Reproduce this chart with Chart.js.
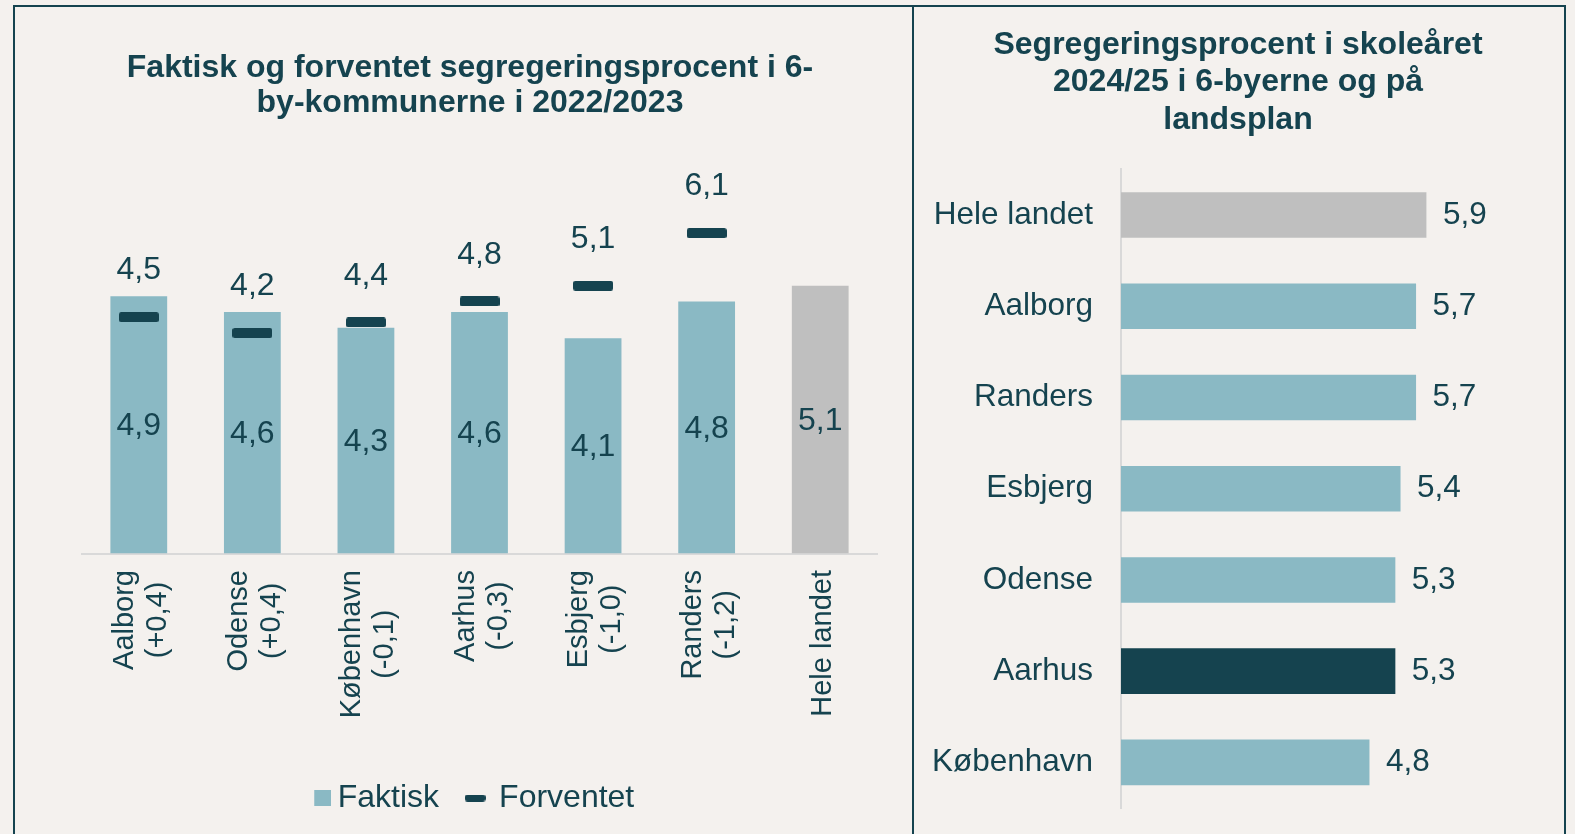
<!DOCTYPE html>
<html lang="da">
<head>
<meta charset="utf-8">
<title>Segregeringsprocent i 6-byerne</title>
<script src="https://cdn.jsdelivr.net/npm/chart.js@4.4.1/dist/chart.umd.min.js"></script>
<style>
  html, body { margin: 0; padding: 0; background: #f4f1ee; overflow: hidden; }
  body { width: 1575px; height: 834px; position: relative; }
  .frame { position: absolute; left: 13px; top: 5px; width: 1549px; height: 900px; border: 2px solid #15434f; border-bottom: none; }
  .divider { position: absolute; left: 912px; top: 5px; width: 2px; height: 900px; background: #15434f; }
  .box { position: absolute; top: 8px; height: 826px; }
  #leftBox { left: 15px; width: 896px; }
  #rightBox { left: 915px; width: 648px; }
</style>
</head>
<body>
<div class="frame"></div>
<div class="divider"></div>
<div class="box" id="leftBox"><canvas id="left"></canvas></div>
<div class="box" id="rightBox"><canvas id="right"></canvas></div>

<script>
// left chart data (2022/2023)
const cities = ['Aalborg', 'Odense', 'København', 'Aarhus', 'Esbjerg', 'Randers', 'Hele landet'];
const diffs = ['(+0,4)', '(+0,4)', '(-0,1)', '(-0,3)', '(-1,0)', '(-1,2)', null];
const faktisk = [4.9, 4.6, 4.3, 4.6, 4.1, 4.8, 5.1];
const forventet = [4.5, 4.2, 4.4, 4.8, 5.1, 6.1, null];

// right chart data (2024/25)
const places = ['Hele landet', 'Aalborg', 'Randers', 'Esbjerg', 'Odense', 'Aarhus', 'København'];
const pct2425 = [5.9, 5.7, 5.7, 5.4, 5.3, 5.3, 4.8];

const DARK = '#15434f';
const LIGHT = '#8ab9c4';
const GREY = '#bfbfbf';
const AXIS = '#d9d9d9';
const FONT = '"Liberation Sans", Arial, sans-serif';

Chart.defaults.font.family = FONT;
Chart.defaults.color = DARK;

const fmt = v => v.toFixed(1).replace('.', ',');

function makeMarker(w, h, r, color, padLeft) {
  const c = document.createElement('canvas');
  c.width = w + (padLeft || 0);
  c.height = h;
  const g = c.getContext('2d');
  g.fillStyle = color;
  g.beginPath();
  g.roundRect(padLeft || 0, 0, w, h, r);
  g.fill();
  return c;
}
const marker = makeMarker(40, 10, 2.5, DARK);
const legendMarker = makeMarker(21, 7, 3, DARK);
// square for the legend, padded on the left so it sits closer to its text
const legendSquare = makeMarker(17, 16, 0, LIGHT, 18);

const leftLabels = {
  id: 'leftLabels',
  afterDatasetsDraw(chart) {
    const ctx = chart.ctx;
    ctx.save();
    ctx.fillStyle = DARK;
    ctx.textAlign = 'center';
    ctx.textBaseline = 'middle';
    ctx.font = '32px ' + FONT;
    chart.getDatasetMeta(0).data.forEach((bar, i) => {
      ctx.fillText(fmt(faktisk[i]), bar.x, (bar.y + bar.base) / 2 + 1.5);
    });
    chart.getDatasetMeta(1).data.forEach((pt, i) => {
      if (forventet[i] == null) return;
      ctx.fillText(fmt(forventet[i]), pt.x, pt.y - 46.5);
    });

    // rotated category labels, lines centred on each other
    const xs = chart.scales.x;
    ctx.font = '29px ' + FONT;
    cities.forEach((c, i) => {
      const lines = diffs[i] ? [c, diffs[i]] : [c];
      const maxW = Math.max(...lines.map(l => ctx.measureText(l).width));
      ctx.save();
      ctx.translate(xs.getPixelForValue(i) + 2.7, xs.top + 16.5);
      ctx.rotate(-Math.PI / 2);
      lines.forEach((l, j) => {
        ctx.fillText(l, -maxW / 2, (j - (lines.length - 1) / 2) * 33);
      });
      ctx.restore();
    });
    ctx.restore();
  }
};

const rightLabels = {
  id: 'rightLabels',
  afterDatasetsDraw(chart) {
    const ctx = chart.ctx;
    ctx.save();
    ctx.fillStyle = DARK;
    ctx.textAlign = 'left';
    ctx.textBaseline = 'middle';
    ctx.font = '31.5px ' + FONT;
    chart.getDatasetMeta(0).data.forEach((bar, i) => {
      ctx.fillText(fmt(pct2425[i]), bar.x + 16.5, bar.y);
    });
    ctx.restore();
  }
};

new Chart(document.getElementById('left'), {
  data: {
    labels: cities,
    datasets: [
      {
        type: 'bar',
        label: 'Faktisk',
        data: faktisk,
        backgroundColor: cities.map((c, i) => i === cities.length - 1 ? GREY : LIGHT),
        borderWidth: 0,
        categoryPercentage: 1,
        barPercentage: 0.5,
        order: 1
      },
      {
        type: 'line',
        label: 'Forventet',
        data: forventet,
        showLine: false,
        pointStyle: marker,
        pointRadius: 10,
        pointHoverRadius: 10,
        order: 0
      }
    ]
  },
  options: {
    responsive: true,
    maintainAspectRatio: false,
    animation: false,
    devicePixelRatio: 1,
    layout: { padding: { left: 48, right: 34, top: 0, bottom: 10 } },
    scales: {
      x: {
        grid: { display: false, drawTicks: false },
        border: { display: true, color: AXIS, width: 2 },
        ticks: { display: false },
        afterFit: s => { s.height = 200.5; }
      },
      y: {
        min: 0,
        max: 8,
        grid: { display: false, drawTicks: false },
        border: { display: false },
        ticks: { display: false },
        afterFit: s => { s.width = 19; }
      }
    },
    plugins: {
      title: {
        display: true,
        text: ['Faktisk og forventet segregeringsprocent i 6-', 'by-kommunerne i 2022/2023'],
        color: DARK,
        font: { size: 32, weight: 'bold', lineHeight: 1.11 },
        padding: { top: 42, bottom: 12.3 }
      },
      legend: {
        position: 'bottom',
        labels: {
          usePointStyle: true,
          boxHeight: 16,
          boxWidth: 16,
          padding: 28,
          color: DARK,
          font: { size: 32 },
          generateLabels(chart) {
            const items = Chart.defaults.plugins.legend.labels.generateLabels(chart);
            items.sort((a, b) => a.datasetIndex - b.datasetIndex);
            items[0].pointStyle = legendSquare;
            items[1].pointStyle = legendMarker;
            return items;
          }
        }
      },
      tooltip: { enabled: false }
    }
  },
  plugins: [leftLabels]
});

new Chart(document.getElementById('right'), {
  type: 'bar',
  data: {
    labels: places,
    datasets: [{
      label: 'Segregeringsprocent',
      data: pct2425,
      backgroundColor: places.map(p => p === 'Hele landet' ? GREY : (p === 'Aarhus' ? DARK : LIGHT)),
      borderWidth: 0,
      categoryPercentage: 1,
      barPercentage: 0.5
    }]
  },
  options: {
    indexAxis: 'y',
    responsive: true,
    maintainAspectRatio: false,
    animation: false,
    devicePixelRatio: 1,
    layout: { padding: { left: 0, right: 2, top: 0, bottom: 0 } },
    scales: {
      x: {
        min: 0,
        max: 8.5,
        grid: { display: false, drawTicks: false },
        border: { display: false },
        ticks: { display: false },
        afterFit: s => { s.height = 26; }
      },
      y: {
        grid: { display: false, drawTicks: false },
        border: { display: true, color: AXIS, width: 2 },
        ticks: { color: DARK, font: { size: 31.5 }, padding: 28 },
        afterFit: s => {
          s.width = 206;
          // labels sit inside their bands, no extra room needed above/below
          s.paddingTop = 0;
          s.paddingBottom = 0;
        }
      }
    },
    plugins: {
      title: {
        display: true,
        text: ['Segregeringsprocent i skoleåret', '2024/25 i 6-byerne og på', 'landsplan'],
        color: DARK,
        font: { size: 32, weight: 'bold', lineHeight: 1.17 },
        padding: { top: 18.4, bottom: 30.7 }
      },
      legend: { display: false },
      tooltip: { enabled: false }
    }
  },
  plugins: [rightLabels]
});
</script>
</body>
</html>
